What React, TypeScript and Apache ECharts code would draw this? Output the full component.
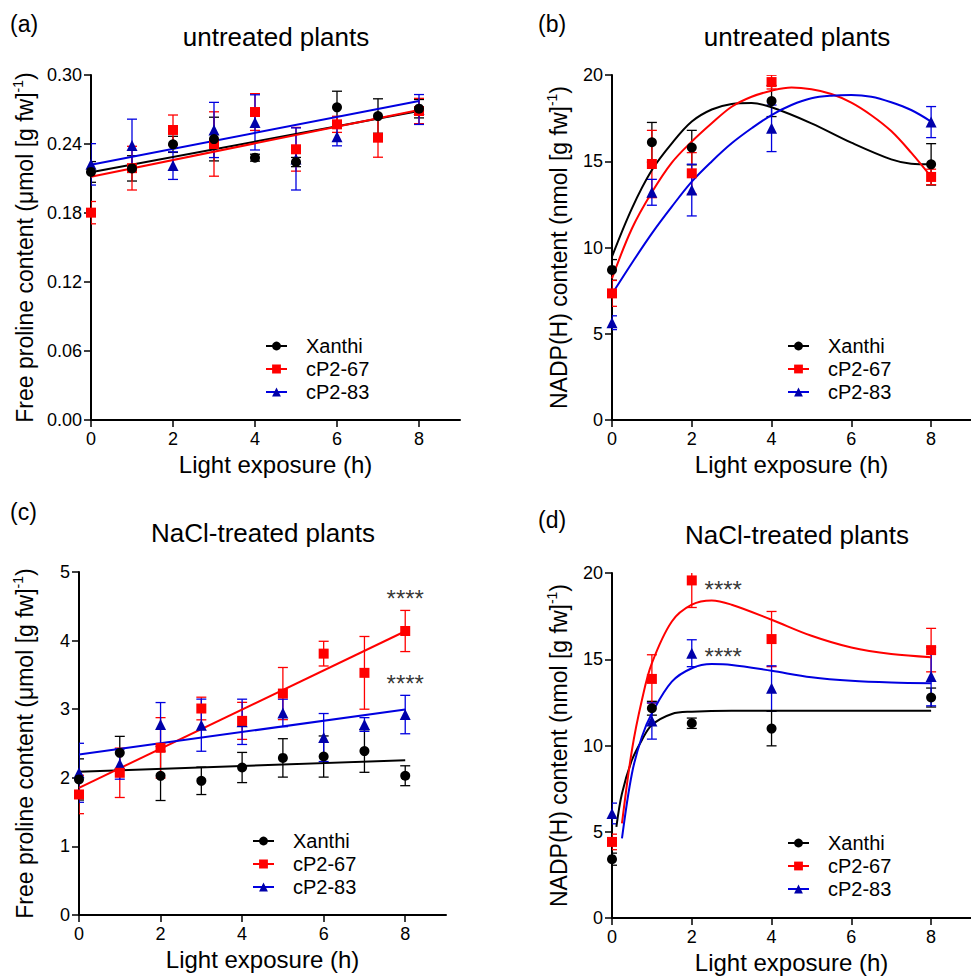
import React, { useEffect, useRef } from 'react';
import * as echarts from 'echarts';

const FONT = '"Liberation Sans", Arial, sans-serif';

const groups = ['Xanthi', 'cP2-67', 'cP2-83'];
const lineColors = ['#000000', '#ff0000', '#0000e0'];
const markerColors = ['#000000', '#ff0000', '#0000aa'];
const symbols = ['circle', 'rect', 'triangle'];
const symbolSizes = [10, 10, 11];

// ---- Panel (a): untreated plants, free proline ----
const aX = [0, 1, 2, 3, 4, 5, 6, 7, 8];
const aXanthi = [0.2157, 0.2188, 0.2397, 0.2443, 0.2281, 0.2243, 0.2719, 0.2643, 0.2707];
const aXanthiErr = [0.009, 0.011, 0.007, 0.019, 0.003, 0.004, 0.014, 0.015, 0.008];
const aCP67 = [0.1803, 0.219, 0.2522, 0.24, 0.2678, 0.2354, 0.2571, 0.2455, 0.2687];
const aCP67Err = [0.0097, 0.019, 0.013, 0.028, 0.016, 0.019, 0.007, 0.017, 0.011];
const aCP83X = [0, 1, 2, 3, 4, 5, 6, 8];
const aCP83 = [0.2223, 0.2386, 0.2212, 0.2522, 0.2588, 0.227, 0.2464, 0.27];
const aCP83Err = [0.018, 0.023, 0.012, 0.024, 0.024, 0.027, 0.008, 0.013];
const aFitX = [0, 8];
const aFitXanthi = [0.2154, 0.2687];
const aFitCP67 = [0.2116, 0.2696];
const aFitCP83 = [0.222, 0.2774];

// ---- Panel (b): untreated plants, NADP(H) ----
const bX = [0, 1, 2, 4, 8];
const bXanthi = [8.7, 16.1, 15.79, 18.49, 14.82];
const bXanthiErr = [0.6, 1.15, 1.0, 0.9, 1.2];
const bCP67 = [7.34, 14.84, 14.3, 19.59, 14.09];
const bCP67Err = [0.75, 1.95, 1.2, 0.4, 0.45];
const bCP83 = [5.64, 13.2, 13.33, 16.91, 17.27];
const bCP83Err = [0.4, 0.75, 1.5, 1.35, 0.9];
const bFitXanthiX = [0, 0.5, 1, 1.5, 2, 2.5, 3, 3.5, 4, 5, 6, 7, 7.5, 8];
const bFitXanthi = [9.47, 12.27, 14.49, 16.04, 17.3, 18.0, 18.32, 18.38, 18.13, 17.2, 16.08, 15.11, 14.86, 14.82];
const bFitX = [0, 0.5, 1, 1.5, 2, 2.5, 3, 3.5, 4, 4.5, 5, 5.5, 6, 6.5, 7, 7.5, 8];
const bFitCP67 = [8.21, 11.1, 13.2, 14.92, 16.14, 17.2, 18.16, 18.74, 19.09, 19.27, 19.17, 18.9, 18.4, 17.67, 16.75, 15.5, 14.1];
const bFitCP83 = [7.3, 9.1, 10.82, 12.37, 13.82, 14.99, 16.04, 16.91, 17.68, 18.26, 18.65, 18.8, 18.84, 18.74, 18.42, 17.97, 17.3];

// ---- Panel (c): NaCl-treated plants, free proline ----
const cX = [0, 1, 2, 3, 4, 5, 6, 7, 8];
const cXanthi = [1.976, 2.364, 2.029, 1.956, 2.15, 2.29, 2.31, 2.39, 2.03];
const cXanthiErr = [0.3, 0.24, 0.36, 0.2, 0.22, 0.28, 0.3, 0.31, 0.145];
const cCP67 = [1.757, 2.073, 2.437, 3.01, 2.83, 3.228, 3.81, 3.53, 4.14];
const cCP67Err = [0.28, 0.36, 0.44, 0.165, 0.27, 0.38, 0.18, 0.53, 0.3];
const cCP83 = [2.073, 2.2, 2.777, 2.767, 2.816, 2.946, 2.587, 2.777, 2.922];
const cCP83Err = [0.43, 0.22, 0.32, 0.38, 0.33, 0.2, 0.35, 0.1, 0.28];
const cFitX = [0, 8];
const cFitXanthi = [2.087, 2.257];
const cFitCP67 = [1.854, 4.136];
const cFitCP83 = [2.34, 2.995];
const cStars = [[8, 4.607], [8, 3.368]];

// ---- Panel (d): NaCl-treated plants, NADP(H) ----
const dX = [0, 1, 2, 4, 8];
const dXanthi = [3.41, 12.16, 11.29, 10.98, 12.78];
const dXanthiErr = [0.35, 0.4, 0.3, 1.0, 0.55];
const dCP67 = [4.41, 13.86, 19.57, 16.17, 15.53];
const dCP67Err = [0.45, 1.4, 1.57, 1.6, 1.26];
const dCP83 = [6.06, 11.42, 15.35, 13.32, 14.0];
const dCP83Err = [0.6, 1.05, 0.78, 1.3, 1.7];
const dFitXanthiX = [0.11, 0.25, 0.5, 0.75, 1, 1.5, 2, 3, 4, 6, 8];
const dFitXanthi = [5.28, 7.22, 9.16, 10.32, 11.19, 11.83, 11.96, 12.02, 12.02, 12.02, 12.02];
const dFitX = [0.25, 0.5, 0.75, 1, 1.5, 2, 2.5, 3, 4, 5, 6, 7, 8];
const dFitCP67 = [5.48, 9.74, 12.64, 14.77, 17.19, 18.16, 18.41, 18.16, 17.29, 16.36, 15.68, 15.3, 15.12];
const dFitCP83 = [4.61, 8.38, 10.51, 11.87, 13.7, 14.48, 14.72, 14.67, 14.33, 13.96, 13.75, 13.65, 13.61];
const dStars = [[2.32, 19.05], [2.32, 15.15]];

const xTickValues = [0, 2, 4, 6, 8];

type Panel = {
  label: string;
  title: string;
  grid: { left: number; top: number; width: number; height: number };
  yMax: number;
  yInterval: number;
  yDecimals: number;
  yName: string;
  yNameGap: number;
  legend: { left: number; top: number };
  points: { x: number[]; y: number[]; err: number[] }[];
  fits: { x: number[]; y: number[] }[];
  smooth: boolean;
  stars: number[][];
  starAlign: string;
  labelPos: [number, number];
  titlePos: [number, number];
};

const panels: Panel[] = [
  {
    label: '(a)', title: 'untreated plants',
    grid: { left: 91, top: 75, width: 369, height: 345 },
    yMax: 0.3, yInterval: 0.06, yDecimals: 2,
    yName: 'Free proline content (μmol [g fw]{sup|-1})', yNameGap: 52,
    legend: { left: 260, top: 331 },
    points: [
      { x: aX, y: aXanthi, err: aXanthiErr },
      { x: aX, y: aCP67, err: aCP67Err },
      { x: aCP83X, y: aCP83, err: aCP83Err },
    ],
    fits: [
      { x: aFitX, y: aFitXanthi },
      { x: aFitX, y: aFitCP67 },
      { x: aFitX, y: aFitCP83 },
    ],
    smooth: false, stars: [], starAlign: 'center',
    labelPos: [10, 12], titlePos: [276, 24],
  },
  {
    label: '(b)', title: 'untreated plants',
    grid: { left: 612, top: 75, width: 370, height: 345 },
    yMax: 20, yInterval: 5, yDecimals: 0,
    yName: 'NADP(H) content (nmol [g fw]{sup|-1})', yNameGap: 39,
    legend: { left: 782, top: 331 },
    points: [
      { x: bX, y: bXanthi, err: bXanthiErr },
      { x: bX, y: bCP67, err: bCP67Err },
      { x: bX, y: bCP83, err: bCP83Err },
    ],
    fits: [
      { x: bFitXanthiX, y: bFitXanthi },
      { x: bFitX, y: bFitCP67 },
      { x: bFitX, y: bFitCP83 },
    ],
    smooth: true, stars: [], starAlign: 'center',
    labelPos: [538, 12], titlePos: [797, 24],
  },
  {
    label: '(c)', title: 'NaCl-treated plants',
    grid: { left: 79, top: 572, width: 367, height: 343 },
    yMax: 5, yInterval: 1, yDecimals: 0,
    yName: 'Free proline content (μmol [g fw]{sup|-1})', yNameGap: 40,
    legend: { left: 247, top: 826 },
    points: [
      { x: cX, y: cXanthi, err: cXanthiErr },
      { x: cX, y: cCP67, err: cCP67Err },
      { x: cX, y: cCP83, err: cCP83Err },
    ],
    fits: [
      { x: cFitX, y: cFitXanthi },
      { x: cFitX, y: cFitCP67 },
      { x: cFitX, y: cFitCP83 },
    ],
    smooth: false, stars: cStars, starAlign: 'center',
    labelPos: [10, 500], titlePos: [263, 520],
  },
  {
    label: '(d)', title: 'NaCl-treated plants',
    grid: { left: 612, top: 573, width: 370, height: 345 },
    yMax: 20, yInterval: 5, yDecimals: 0,
    yName: 'NADP(H) content (nmol [g fw]{sup|-1})', yNameGap: 39,
    legend: { left: 782, top: 828 },
    points: [
      { x: dX, y: dXanthi, err: dXanthiErr },
      { x: dX, y: dCP67, err: dCP67Err },
      { x: dX, y: dCP83, err: dCP83Err },
    ],
    fits: [
      { x: dFitXanthiX, y: dFitXanthi },
      { x: dFitX, y: dFitCP67 },
      { x: dFitX, y: dFitCP83 },
    ],
    smooth: true, stars: dStars, starAlign: 'left',
    labelPos: [538, 508], titlePos: [797, 522],
  },
];

function buildOption() {
  const grids: any[] = [];
  const xAxes: any[] = [];
  const yAxes: any[] = [];
  const series: any[] = [];
  const legends: any[] = [];
  const graphics: any[] = [];

  panels.forEach((p, pi) => {
    grids.push({ ...p.grid, containLabel: false });
    xAxes.push({
      type: 'value', gridIndex: pi, min: 0, max: 9,
      axisLine: { show: true, lineStyle: { color: '#000', width: 2 } },
      axisTick: { show: true, length: 7, lineStyle: { color: '#000', width: 1.5 }, customValues: xTickValues },
      axisLabel: { customValues: xTickValues, color: '#000', fontSize: 18, fontFamily: FONT, margin: 10 },
      splitLine: { show: false },
      name: 'Light exposure (h)', nameLocation: 'middle', nameGap: 32,
      nameTextStyle: { color: '#000', fontSize: 24, fontFamily: FONT },
    });
    yAxes.push({
      type: 'value', gridIndex: pi, min: 0, max: p.yMax, interval: p.yInterval,
      axisLine: { show: true, lineStyle: { color: '#000', width: 2 } },
      axisTick: { show: true, length: 7, lineStyle: { color: '#000', width: 1.5 } },
      axisLabel: {
        color: '#000', fontSize: 18, fontFamily: FONT, margin: 9,
        formatter: (v: number) => v.toFixed(p.yDecimals),
      },
      splitLine: { show: false },
      name: p.yName, nameLocation: 'middle', nameGap: p.yNameGap, nameRotate: 90,
      nameTextStyle: {
        color: '#000', fontSize: 23, fontFamily: FONT, lineHeight: 28,
        rich: { sup: { fontSize: 14, lineHeight: 14, verticalAlign: 'top', fontFamily: FONT, color: '#000' } },
      },
    });

    // error bars
    p.points.forEach((pt, gi) => {
      series.push({
        type: 'custom', name: groups[gi] + ' err ' + pi,
        xAxisIndex: pi, yAxisIndex: pi, clip: true, z: 2,
        data: pt.x.map((x, i) => [x, pt.y[i] - pt.err[i], pt.y[i] + pt.err[i]]),
        encode: { x: 0, y: [1, 2] },
        renderItem: (params: any, api: any) => {
          const lo = api.coord([api.value(0), api.value(1)]);
          const hi = api.coord([api.value(0), api.value(2)]);
          const w = 5;
          const style = { stroke: lineColors[gi], lineWidth: 1.3, fill: 'none' };
          return {
            type: 'group',
            children: [
              { type: 'line', shape: { x1: lo[0], y1: lo[1], x2: hi[0], y2: hi[1] }, style },
              { type: 'line', shape: { x1: lo[0] - w, y1: lo[1], x2: lo[0] + w, y2: lo[1] }, style },
              { type: 'line', shape: { x1: hi[0] - w, y1: hi[1], x2: hi[0] + w, y2: hi[1] }, style },
            ],
          };
        },
      });
    });

    // fit lines (these carry the legend names)
    p.fits.forEach((f, gi) => {
      series.push({
        type: 'line', name: groups[gi], xAxisIndex: pi, yAxisIndex: pi, z: 3,
        data: f.x.map((x, i) => [x, f.y[i]]),
        smooth: p.smooth ? 0.35 : false,
        showSymbol: false, symbol: symbols[gi], symbolSize: symbolSizes[gi],
        lineStyle: { color: lineColors[gi], width: 2 },
        itemStyle: { color: markerColors[gi] },
        silent: true,
      });
    });

    // data points (blue first, black on top)
    [2, 1, 0].forEach((gi) => {
      const pt = p.points[gi];
      series.push({
        type: 'scatter', name: groups[gi] + ' pts ' + pi,
        xAxisIndex: pi, yAxisIndex: pi, z: 4,
        symbol: symbols[gi], symbolSize: symbolSizes[gi],
        itemStyle: { color: markerColors[gi], opacity: 1 },
        data: pt.x.map((x, i) => [x, pt.y[i]]),
        silent: true,
      });
    });

    if (p.stars.length) {
      series.push({
        type: 'scatter', name: 'stars ' + pi, xAxisIndex: pi, yAxisIndex: pi, z: 5,
        symbolSize: 0, silent: true,
        data: p.stars,
        label: {
          show: true, position: 'inside', formatter: '****', color: '#000',
          fontSize: 24, fontFamily: FONT, align: p.starAlign, verticalAlign: 'middle',
        },
      });
    }

    legends.push({
      data: groups, orient: 'vertical', left: p.legend.left, top: p.legend.top,
      itemWidth: 21, itemHeight: 11, itemGap: 3, selectedMode: false,
      textStyle: { color: '#000', fontSize: 20, fontFamily: FONT, lineHeight: 20, padding: [0, 0, 0, 14] },
      lineStyle: { width: 2 },
    });

    graphics.push({
      type: 'text', x: p.labelPos[0], y: p.labelPos[1],
      style: { text: p.label, fill: '#000', font: `23px ${FONT}`, textAlign: 'left', textVerticalAlign: 'top' },
    });
    graphics.push({
      type: 'text', x: p.titlePos[0], y: p.titlePos[1],
      style: { text: p.title, fill: '#000', font: `26px ${FONT}`, textAlign: 'center', textVerticalAlign: 'top' },
    });
  });

  return {
    animation: false,
    backgroundColor: '#ffffff',
    grid: grids,
    xAxis: xAxes,
    yAxis: yAxes,
    legend: legends,
    series,
    graphic: graphics,
  };
}

export default function App() {
  const ref = useRef<HTMLDivElement>(null);
  useEffect(() => {
    if (!ref.current) return;
    const chart = echarts.init(ref.current, undefined, { renderer: 'svg' });
    chart.setOption(buildOption() as any);
    return () => chart.dispose();
  }, []);
  return (
    <div
      ref={ref}
      style={{ position: 'absolute', left: 0, top: 0, width: 971, height: 977, background: '#fff' }}
    />
  );
}
